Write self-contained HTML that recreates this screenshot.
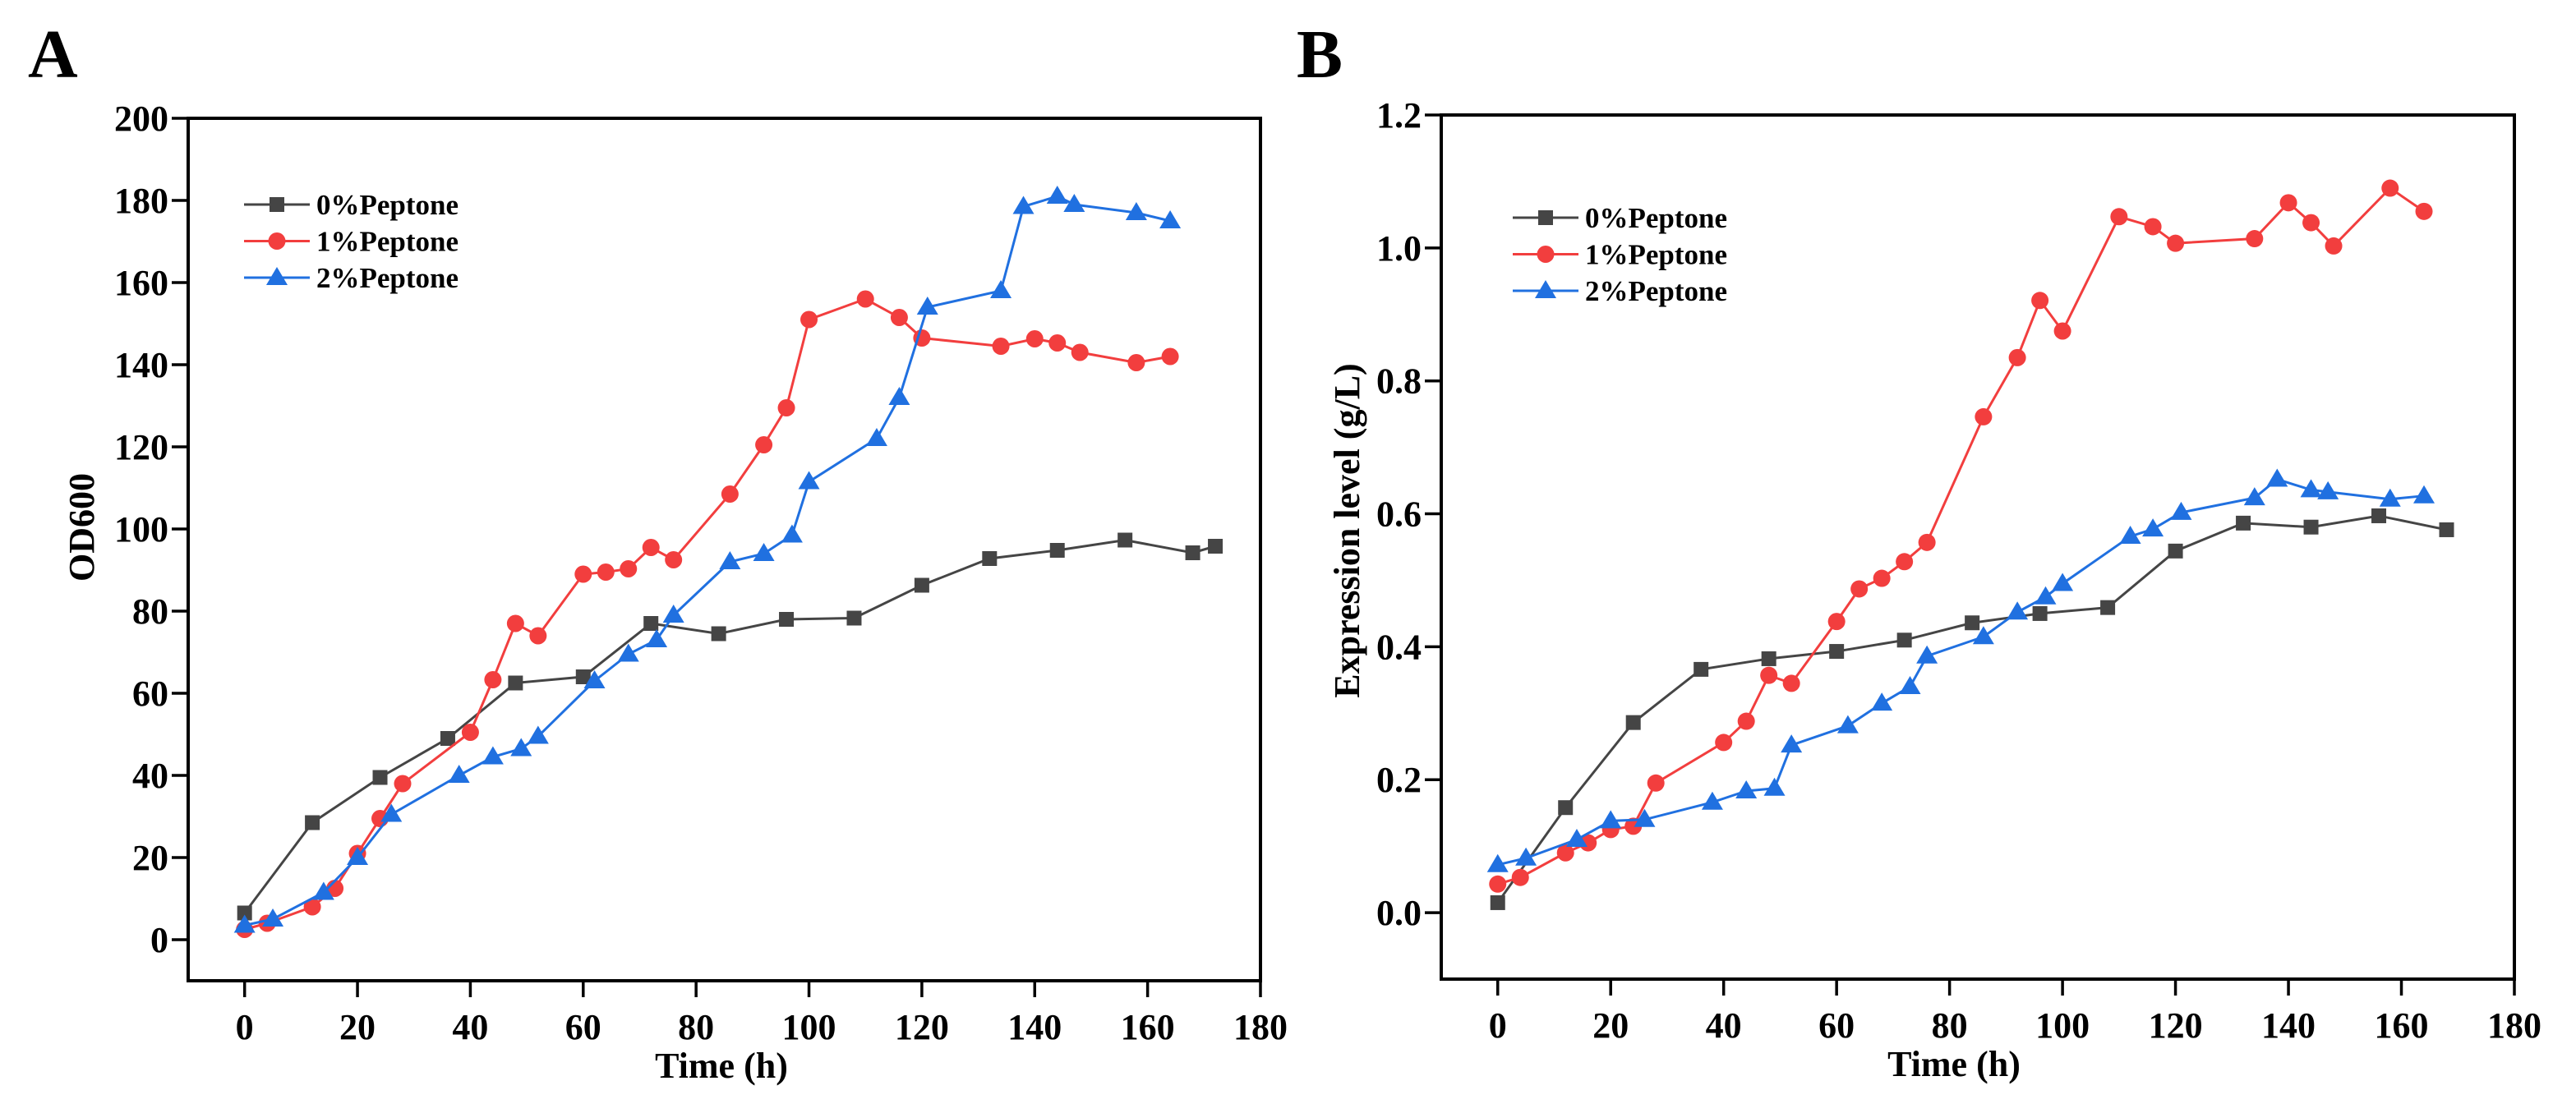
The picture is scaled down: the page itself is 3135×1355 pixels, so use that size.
<!DOCTYPE html>
<html><head><meta charset="utf-8"><style>
html,body{margin:0;padding:0;background:#fff;overflow:hidden;}
svg{display:block;font-family:"Liberation Serif",serif;font-weight:bold;}
</style></head><body>
<svg id="c" width="3135" height="1355" viewBox="0 0 3135 1355" xmlns="http://www.w3.org/2000/svg">
<text x="34" y="94" font-size="84">A</text>
<text x="1578" y="94" font-size="84">B</text>
</svg>
<script>
const xTicks=[0,20,40,60,80,100,120,140,160,180];
const yTicksA=[0,20,40,60,80,100,120,140,160,180,200];
const yTicksB=[0,0.2,0.4,0.6,0.8,1.0,1.2];
const seriesNames=["0%Peptone","1%Peptone","2%Peptone"];
const a0x=[0,12,24,36,48,60,72,84,96,108,120,132,144,156,168,172];
const a0y=[6.5,28.5,39.5,49,62.5,64,77,74.5,78,78.3,86.3,92.8,94.8,97.3,94.2,95.8];
const a1x=[0,4,12,16,20,24,28,40,44,48,52,60,64,68,72,76,86,92,96,100,110,116,120,134,140,144,148,158,164];
const a1y=[2.5,4,8,12.5,21,29.5,38,50.5,63.3,77,74,89,89.5,90.3,95.5,92.5,108.5,120.5,129.5,151,156,151.5,146.5,144.5,146.3,145.3,143,140.5,142];
const a2x=[0,5,14,20,26,38,44,49,52,62,68,73,76,86,92,97,100,112,116,121,134,138,144,147,158,164];
const a2y=[3.5,5,11.5,20,30.5,40,44.5,46.5,49.5,63,69.5,73,79,92,94,98.5,111.5,122,132,154,158,178.5,181,179,177,175];
const b0x=[0,12,24,36,48,60,72,84,96,108,120,132,144,156,168];
const b0y=[0.015,0.158,0.286,0.366,0.382,0.393,0.41,0.436,0.45,0.459,0.544,0.586,0.58,0.597,0.576];
const b1x=[0,4,12,16,20,24,28,40,44,48,52,60,64,68,72,76,86,92,96,100,110,116,120,134,140,144,148,158,164];
const b1y=[0.043,0.053,0.09,0.105,0.125,0.13,0.195,0.256,0.288,0.357,0.345,0.438,0.487,0.503,0.528,0.557,0.746,0.835,0.921,0.875,1.047,1.032,1.007,1.014,1.068,1.038,1.003,1.09,1.055];
const b2x=[0,5,14,20,26,38,44,49,52,62,68,73,76,86,92,97,100,112,116,121,134,138,144,147,158,164];
const b2y=[0.072,0.082,0.11,0.138,0.14,0.166,0.183,0.187,0.252,0.281,0.315,0.34,0.386,0.415,0.452,0.475,0.495,0.566,0.577,0.602,0.624,0.652,0.636,0.633,0.622,0.627];

const NS="http://www.w3.org/2000/svg";
const svg=document.getElementById('c');
const colors=["#454545","#f23e3e","#2070e0"];
function mk(tag,attrs,parent){const e=document.createElementNS(NS,tag);for(const k in attrs)e.setAttribute(k,attrs[k]);(parent||svg).appendChild(e);return e;}
function marker(g,kind,cx,cy,col){
  let e;
  if(kind===0)e=mk('rect',{x:cx-9,y:cy-9,width:18,height:18,fill:col},g);
  else if(kind===1)e=mk('circle',{cx:cx,cy:cy,r:10.5,fill:col},g);
  else e=mk('polygon',{points:`${cx},${cy-13} ${cx+13},${cy+9} ${cx-13},${cy+9}`,fill:col},g);
  return e;
}
function panel(p){
  const {L,R,T,B,xmin,xmax,ymin,ymax,yTicks,fmt,series,title,ylabX,ylabY,xtX,legX,legY,id}=p;
  const sx=v=>L+(v-xmin)/(xmax-xmin)*(R-L);
  const sy=v=>B-(v-ymin)/(ymax-ymin)*(B-T);
  const g=mk('g',{});
  
  
  const box=mk('rect',{x:L,y:T,width:R-L,height:B-T,fill:'none',stroke:'#000','stroke-width':4},g);
  
  
  xTicks.forEach(t=>{
    mk('line',{x1:sx(t),y1:B,x2:sx(t),y2:B+20,stroke:'#000','stroke-width':3.5},g);
    const tx=mk('text',{x:sx(t),y:B+71,'font-size':44,'text-anchor':'middle'},g);tx.textContent=t;
    
    
  });
  yTicks.forEach(t=>{
    mk('line',{x1:L-20,y1:sy(t),x2:L,y2:sy(t),stroke:'#000','stroke-width':3.5},g);
    const tx=mk('text',{x:L-24,y:sy(t)+15,'font-size':44,'text-anchor':'end'},g);tx.textContent=fmt(t);
    
    
  });
  const xt=mk('text',{x:xtX,y:B+118,'font-size':44,'text-anchor':'middle'},g);xt.textContent='Time (h)';
  
  
  const yt=mk('text',{x:ylabX,y:ylabY,'font-size':44,'text-anchor':'middle',transform:`rotate(-90 ${ylabX} ${ylabY})`},g);yt.textContent=title;
  
  
  series.forEach((s,i)=>{
    const sg=mk('g',{},g);
    
    
    const pts=s[0].map((x,j)=>sx(x)+','+sy(s[1][j])).join(' ');
    mk('polyline',{points:pts,fill:'none',stroke:colors[i],'stroke-width':3},sg);
    s[0].forEach((x,j)=>{
      const m=marker(sg,i,sx(x),sy(s[1][j]),colors[i]);
      
      
    });
  });
  seriesNames.forEach((n,i)=>{
    const y=legY+i*44.5;
    const lg=mk('g',{},g);
    
    
    mk('line',{x1:legX,y1:y,x2:legX+80,y2:y,stroke:colors[i],'stroke-width':3},lg);
    marker(lg,i,legX+40,y,colors[i]);
    const t=mk('text',{x:legX+88,y:y+12,'font-size':35},lg);t.textContent=n;
  });
}
panel({id:'od600',L:229,R:1534,T:144,B:1194,xmin:-10,xmax:180,ymin:-10,ymax:200,yTicks:yTicksA,fmt:t=>String(t),
  series:[[a0x,a0y],[a1x,a1y],[a2x,a2y]],title:'OD600',ylabX:114,ylabY:642,xtX:878,legX:297,legY:249});
panel({id:'expression',L:1754,R:3060,T:140,B:1192,xmin:-10,xmax:180,ymin:-0.1,ymax:1.2,yTicks:yTicksB,fmt:t=>t.toFixed(1),
  series:[[b0x,b0y],[b1x,b1y],[b2x,b2y]],title:'Expression level (g/L)',ylabX:1654,ylabY:646,xtX:2378,legX:1841,legY:265});
</script>
</body></html>
